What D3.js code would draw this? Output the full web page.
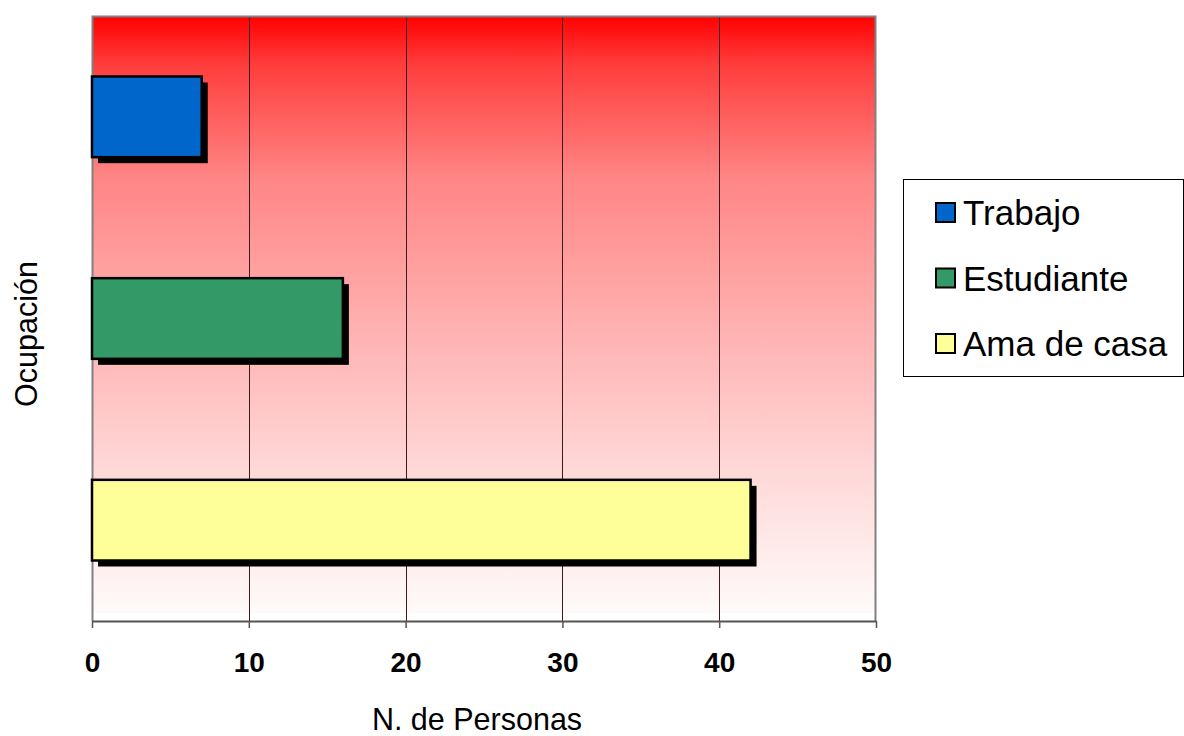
<!DOCTYPE html>
<html>
<head>
<meta charset="utf-8">
<script src="https://cdn.jsdelivr.net/npm/d3@7"></script>
<style>
html,body{margin:0;padding:0;background:#fff;}
svg{display:block;font-family:Arial,"Liberation Sans",sans-serif;}
</style>
</head>
<body>
<svg id="chart" width="1184" height="736"></svg>
<script>
const categories = ["Trabajo", "Estudiante", "Ama de casa"];
const values = [7, 16, 42];
const colors = ["#0066CC", "#339966", "#FFFF99"];
const xTicks = [0, 10, 20, 30, 40, 50];
const xTitle = "N. de Personas";
const yTitle = "Ocupación";

const svg = d3.select("#chart");
const L = 92, R = 876, T = 16, B = 621;

const x = d3.scaleLinear().domain([0, 50]).range([L, R]);
const y = d3.scaleBand().domain(categories).range([T, B]).paddingInner(0.6).paddingOuter(0.3);

const defs = svg.append("defs");
const grad = defs.append("linearGradient").attr("id", "bg").attr("x1", 0).attr("y1", 0).attr("x2", 0).attr("y2", 1);
[[0, "#ff0000"], [0.08, "#ff3c3c"], [0.27, "#ff8585"], [0.5, "#ffadad"], [0.75, "#ffd6d6"], [1, "#fffafa"]]
  .forEach(([o, c]) => grad.append("stop").attr("offset", o).attr("stop-color", c));

svg.append("rect").attr("x", L).attr("y", T).attr("width", R - L).attr("height", 613 - T).attr("fill", "url(#bg)");

// gridlines
svg.append("g").selectAll("line").data(xTicks.slice(1, -1)).join("line")
  .attr("x1", d => Math.round(x(d)) + 0.5).attr("x2", d => Math.round(x(d)) + 0.5)
  .attr("y1", T).attr("y2", B).attr("stroke", "#3a1a1a").attr("stroke-width", 1);

// plot border (left, top, right)
svg.append("path")
  .attr("d", `M${L + 0.5},${B} V${T + 0.5} H${R - 0.5} V${B}`)
  .attr("fill", "none").attr("stroke", "#808080").attr("stroke-width", 2);

// x axis
const xAxis = svg.append("g").attr("transform", `translate(0,${B})`)
  .call(d3.axisBottom(x).tickValues(xTicks).tickSize(7).tickPadding(24).tickSizeOuter(0));
xAxis.select(".domain").attr("stroke", "#555").attr("stroke-width", 2);
xAxis.selectAll(".tick line").attr("stroke", "#555").attr("stroke-width", 1.5);
xAxis.selectAll(".tick text").attr("font-size", 28).attr("font-weight", "bold").attr("fill", "#000")
  .attr("font-family", "Arial, 'Liberation Sans', sans-serif");

// bars with shadow
const data = categories.map((c, i) => ({ c, v: values[i], col: colors[i] }));
const bars = svg.append("g");
bars.selectAll("rect.sh").data(data).join("rect").attr("class", "sh")
  .attr("x", x(0) + 6).attr("y", d => y(d.c) + 6)
  .attr("width", d => x(d.v) - x(0)).attr("height", y.bandwidth()).attr("fill", "#000");
bars.selectAll("rect.bar").data(data).join("rect").attr("class", "bar")
  .attr("x", x(0)).attr("y", d => y(d.c))
  .attr("width", d => x(d.v) - x(0)).attr("height", y.bandwidth())
  .attr("fill", d => d.col).attr("stroke", "#000").attr("stroke-width", 2.5);

// titles
svg.append("text").attr("x", 477).attr("y", 730).attr("text-anchor", "middle")
  .attr("font-size", 30.5).attr("fill", "#000").text(xTitle);
svg.append("text").attr("transform", "translate(37,334) rotate(-90)").attr("text-anchor", "middle")
  .attr("font-size", 30.5).attr("fill", "#000").text(yTitle);

// legend
const lg = svg.append("g");
lg.append("rect").attr("x", 903.5).attr("y", 179.5).attr("width", 280).attr("height", 197)
  .attr("fill", "#fff").attr("stroke", "#000").attr("stroke-width", 1);
const rowY = d3.scalePoint().domain(categories).range([213, 344]);
const items = lg.selectAll("g.it").data(data).join("g").attr("class", "it")
  .attr("transform", d => `translate(0,${rowY(d.c)})`);
items.append("rect").attr("x", 936).attr("y", -10).attr("width", 19).attr("height", 19)
  .attr("fill", d => d.col).attr("stroke", "#000").attr("stroke-width", 2);
items.append("text").attr("x", 963).attr("y", 12).attr("font-size", 35).attr("fill", "#000").text(d => d.c);
</script>
</body>
</html>
